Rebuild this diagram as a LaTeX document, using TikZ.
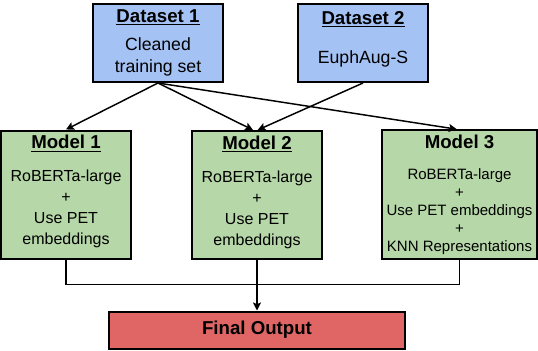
\documentclass[tikz,border=0pt]{standalone}
\usepackage{fontspec}
\setmainfont{Liberation Sans}
\usepackage{xcolor}
\usetikzlibrary{arrows,arrows.meta,positioning,calc}
\definecolor{dsblue}{HTML}{A4C2F4}
\definecolor{mdgreen}{HTML}{B6D7A8}
\definecolor{outred}{HTML}{E06666}
\newcommand{\boxtitle}[1]{{\fontsize{14}{16}\selectfont\bfseries #1}}
\tikzset{
  dsbox/.style={draw,line width=1.5pt,fill=dsblue,align=center,minimum width=97.5pt,minimum height=58.5pt,font=\fontsize{13.25}{16.5}\selectfont},
  mdbox/.style={draw,line width=1.5pt,fill=mdgreen,align=center,minimum width=97.5pt,minimum height=96pt,font=\fontsize{12}{15.75}\selectfont},
  link/.style={line width=1.1pt}
}
\begin{document}
\begin{tikzpicture}[>={Stealth[length=6pt,width=6pt,inset=1.2pt]},x=0.75pt,y=-0.75pt]
\useasboundingbox (0,0) rectangle (538,350);
\node[dsbox] (ds1) at (158,43) {\boxtitle{\underline{Dataset 1}}\\[4.5pt]Cleaned\\training set};
\node[dsbox] (ds2) at (363,43) {\boxtitle{\underline{Dataset 2}}\\[12.5pt]EuphAug-S\\[-8pt]\mbox{}};
\node[mdbox] (m1) at (66,194.5) {\boxtitle{\underline{Model 1}}\\[9pt]RoBERTa-large\\+\\Use PET\\embeddings\\[-9pt]\mbox{}};
\node[mdbox] (m2) at (257,195) {\boxtitle{\underline{Model 2}}\\[9pt]RoBERTa-large\\+\\Use PET\\embeddings\\[-9pt]\mbox{}};
\node[mdbox,minimum width=114.75pt,font=\fontsize{11.25}{13.5}\selectfont] (m3) at (459.5,194.5) {\boxtitle{Model 3}\\[9.75pt]RoBERTa-large\\+\\Use PET embeddings\\+\\KNN Representations};
\node[draw,line width=1.5pt,fill=outred,minimum width=222pt,minimum height=27.75pt,font=\fontsize{14}{16}\selectfont\bfseries] (out) at (257,330) {Final Output};
\draw[link,->] (ds1.south) -- (m1.north);
\draw[link,->] (ds1.south) -- ([xshift=-3pt]m2.north);
\draw[link,->] (ds1.south) -- ([xshift=-2pt]m3.north);
\draw[link,->] (ds2.south) -- ([xshift=0.5pt]m2.north);
\draw[link] (m1.south) -- ++(0,25) -| (m3.south);
\draw[link,->] (m2.south) -- (out.north);
\end{tikzpicture}
\end{document}
